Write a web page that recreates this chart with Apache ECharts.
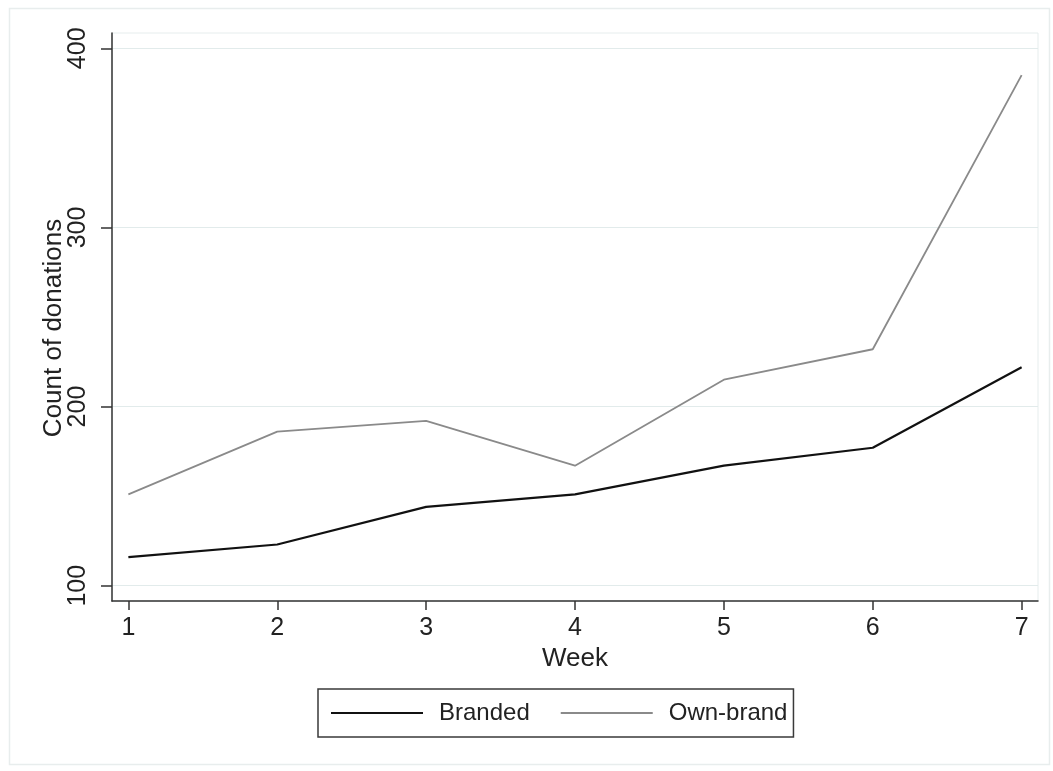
<!DOCTYPE html>
<html>
<head>
<meta charset="utf-8">
<style>
html,body{margin:0;padding:0;background:#fff;}
#chart{width:1053px;height:771px;}
</style>
<script src="https://cdn.jsdelivr.net/npm/echarts@6/dist/echarts.min.js"></script>
</head>
<body>
<div id="chart"></div>
<script>
const weeks = [1, 2, 3, 4, 5, 6, 7];
const branded = [116, 123, 144, 151, 167, 177, 222];
const ownBrand = [151, 186, 192, 167, 215, 232, 385];
const yTicks = [100, 200, 300, 400];
const seriesNames = ['Branded', 'Own-brand'];

const FONT = '"Liberation Sans", Arial, sans-serif';
const chart = echarts.init(document.getElementById('chart'), null, {renderer: 'canvas'});

const toPairs = vals => weeks.map((w, i) => [w, vals[i]]);

chart.setOption({
  backgroundColor: '#ffffff',
  animation: false,
  textStyle: {fontFamily: FONT, color: '#222'},
  graphic: [{
    type: 'rect', left: 7, top: 6, silent: true,
    shape: {width: 1040, height: 756},
    style: {fill: 'none', stroke: '#e8eded', lineWidth: 1.5}
  }],
  grid: {
    left: 112, right: 15, top: 33, bottom: 170,
    show: true, borderColor: '#e6eded', borderWidth: 1, backgroundColor: 'transparent'
  },
  legend: {
    data: seriesNames,
    left: 318, top: 689,
    orient: 'horizontal',
    itemWidth: 92, itemHeight: 14, itemGap: 30,
    padding: [12, 6, 12, 12],
    borderColor: '#3a3a3a', borderWidth: 1.5,
    itemStyle: {color: 'transparent', borderWidth: 0, opacity: 0},
    textStyle: {fontFamily: FONT, fontSize: 24, color: '#222', padding: [0, 0, 0, 11]}
  },
  xAxis: {
    type: 'value', min: 0.89, max: 7.11,
    name: 'Week', nameLocation: 'middle', nameGap: 45, nameMoveOverlap: false,
    nameTextStyle: {fontFamily: FONT, fontSize: 26, color: '#222'},
    axisLine: {show: true, lineStyle: {color: '#333', width: 1.5}},
    axisTick: {show: true, length: 9, customValues: weeks, lineStyle: {color: '#333', width: 1.5}},
    axisLabel: {customValues: weeks, margin: 15, fontFamily: FONT, fontSize: 25, color: '#222'},
    splitLine: {show: false}
  },
  yAxis: {
    type: 'value', min: 91.46, max: 408.54,
    name: 'Count of donations', nameLocation: 'middle', nameGap: 45, nameRotate: 90,
    nameMoveOverlap: false,
    nameTextStyle: {fontFamily: FONT, fontSize: 26, color: '#222', padding: [0, 22, 0, 0]},
    axisLine: {show: true, lineStyle: {color: '#333', width: 1.5}},
    axisTick: {show: true, length: 11, customValues: yTicks, lineStyle: {color: '#333', width: 1.5}},
    axisLabel: {customValues: yTicks, rotate: 90, margin: 21, fontFamily: FONT, fontSize: 25, color: '#222'},
    splitLine: {show: true, lineStyle: {color: '#e2ebeb', width: 1}}
  },
  series: [
    {
      name: seriesNames[0], type: 'line', data: toPairs(branded),
      symbol: 'none', lineStyle: {color: '#111', width: 2.2}, itemStyle: {color: '#111'}, z: 3
    },
    {
      name: seriesNames[1], type: 'line', data: toPairs(ownBrand),
      symbol: 'none', lineStyle: {color: '#8a8a8a', width: 1.8}, itemStyle: {color: '#8a8a8a'}, z: 2
    }
  ]
});
</script>
</body>
</html>
